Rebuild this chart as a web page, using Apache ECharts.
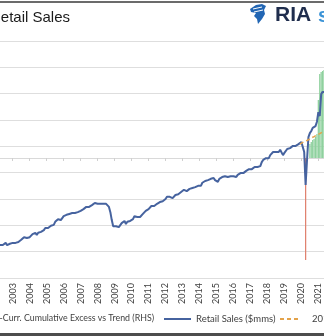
<!DOCTYPE html>
<html>
<head>
<meta charset="utf-8">
<script src="https://cdn.jsdelivr.net/npm/echarts/dist/echarts.min.js"></script>
<style>
html,body{margin:0;padding:0;background:#fff;}
#chart{width:324px;height:336px;}
</style>
</head>
<body>
<div id="chart"></div>
<script>
// ---- Data ----
const titleText = 'Retail Sales';
const firstYear = 2002;
const firstMonth = 4; // April 2002 is the first visible month
// Retail Sales ($bn, monthly), Apr 2002 .. May 2021
const retailSales = [
  315,313,315,318,320,315,315,318,320,
  320,318,320,320,322,324,327,329,333,331,331,331,
  333,336,340,338,343,338,343,343,345,349,349,354,
  352,354,356,359,356,361,368,368,374,370,372,374,
  381,381,384,386,386,388,388,390,388,388,390,393,
  393,395,397,397,402,400,402,404,406,406,411,409,
  409,406,409,409,409,411,409,406,402,390,372,358,
  361,358,354,356,358,365,363,370,363,368,370,370,
  372,374,381,381,379,377,379,381,386,388,393,395,
  397,400,404,404,404,406,409,409,413,413,415,418,
  420,425,427,425,425,422,425,429,431,431,434,436,
  438,441,438,438,441,443,443,445,445,447,450,450,
  447,450,457,461,461,463,463,466,466,466,468,463,
  459,459,466,466,470,470,472,472,470,472,472,472,
  472,472,470,475,479,479,479,479,482,484,486,488,
  491,488,491,493,491,493,495,495,504,509,513,513,
  513,513,520,520,527,525,527,529,527,532,532,520,
  525,527,534,536,536,539,541,543,541,543,545,545,
  550,548,527,452,509,561,570,575,582,584,586,596,
  618,609,659,664,664
];
// Trend line, Dec 2019 .. May 2021
const trendStart = '2019-12';
const trendValues = [545,547,549,550,552,554,555,557,559,561,562,564,566,568,569,571,573,575];
// Cumulative excess vs trend (RHS), Apr 2020 .. May 2021
const excessStart = '2020-04';
const excessValues = [-204,null,null,28,32,36,38,42,48,116,168,172,174,176];

const seriesNames = [
  '2020-Curr. Cumulative Excess vs Trend (RHS)',
  'Retail Sales ($mms)',
  '2015-2019 Trend'
];

// ---- Build category axis and aligned series ----
const categories = [];
for (let i = 0; i < retailSales.length; i++) {
  const m = firstMonth - 1 + i;
  const y = firstYear + Math.floor(m / 12);
  const mm = (m % 12) + 1;
  categories.push(y + '-' + (mm < 10 ? '0' + mm : mm));
}
function alignTo(start, vals) {
  const out = categories.map(() => null);
  const idx = categories.indexOf(start);
  vals.forEach((v, k) => { if (idx + k < out.length) out[idx + k] = v; });
  return out;
}
const trendData = alignTo(trendStart, trendValues);
const excessData = alignTo(excessStart, excessValues).map(v =>
  v === null ? null : (v < 0 ? { value: v, itemStyle: { color: '#e0826f' } } : v));

const isJan = (idx, val) => String(val).slice(5) === '01';
const txt = { fontFamily: 'Lato', fontSize: 9, color: '#404040' };
const legTxt = { fontFamily: 'Lato', fontSize: 9.5, color: '#404040' };

const chart = echarts.init(document.getElementById('chart'), null, { renderer: 'canvas' });
chart.setOption({
  animation: false,
  backgroundColor: '#ffffff',
  graphic: [
    { type: 'rect', shape: { x: 0, y: 1, width: 324, height: 2 }, style: { fill: '#6b6b6b' }, silent: true },
    { type: 'rect', shape: { x: 0, y: 333, width: 324, height: 3 }, style: { fill: '#4d4d4d' }, silent: true },
    { type: 'text', style: { x: -10, y: 18, text: titleText, font: '15px "Liberation Sans"', fill: '#1a1a1a', verticalAlign: 'middle' }, silent: true },
    { type: 'polygon', shape: { points: [[250,9],[256,5],[262,4],[266,6],[264,10],[265,14],[262,19],[258,24],[257,19],[254,16],[256,13],[251,12]] },
      style: { fill: '#2266b4' }, silent: true },
    { type: 'line', shape: { x1: 253, y1: 9, x2: 262, y2: 7 }, style: { stroke: '#ffffff', lineWidth: 1 }, silent: true },
    { type: 'line', shape: { x1: 254, y1: 12, x2: 263, y2: 10 }, style: { stroke: '#ffffff', lineWidth: 1 }, silent: true },
    { type: 'text', style: { x: 275, y: 15, text: 'RIA', font: 'bold 21px "Liberation Sans"', fill: '#1f2d4d', verticalAlign: 'middle' }, silent: true },
    { type: 'text', style: { x: 318, y: 16, text: 's', font: 'bold 20px "Liberation Sans"', fill: '#3b93d6', verticalAlign: 'middle' }, silent: true }
  ],
  legend: [
    { data: [seriesNames[0]], right: 170, top: 314, padding: 0, itemWidth: 14, itemHeight: 8,
      textStyle: { ...legTxt, fontSize: 8.8 } },
    { data: [seriesNames[1]], left: 163, top: 314, padding: 0, itemWidth: 27, itemHeight: 12, textStyle: legTxt,
      itemStyle: { opacity: 0 }, lineStyle: { width: 2 } },
    { data: [seriesNames[2]], left: 279, top: 314, padding: 0, itemWidth: 18, itemHeight: 12,
      textStyle: { ...legTxt, padding: [0, 0, 0, 9] }, itemStyle: { opacity: 0 }, lineStyle: { width: 2 } }
  ],
  grid: { left: 0, right: 0, top: 41, bottom: 58 },
  xAxis: {
    type: 'category', data: categories, boundaryGap: false,
    axisLine: { show: true, lineStyle: { color: '#d9d9d9' } },
    axisTick: { show: true, interval: isJan, length: 3, lineStyle: { color: '#d0d0d0' } },
    axisLabel: { interval: isJan, rotate: 90, margin: 5, formatter: v => v.slice(0, 4), ...txt },
    splitLine: { show: false }
  },
  yAxis: [
    { type: 'value', min: 240, max: 780, interval: 60,
      axisLabel: { show: false }, axisLine: { show: false }, axisTick: { show: false },
      splitLine: { show: true, lineStyle: { color: '#dedede', width: 1 } } },
    { type: 'value', min: -240, max: 234, show: false, splitLine: { show: false } }
  ],
  series: [
    { name: seriesNames[0], type: 'bar', yAxisIndex: 1, data: excessData, barWidth: '90%',
      itemStyle: { color: '#8fd19e' } },
    { name: seriesNames[1], type: 'line', data: retailSales, symbol: 'none',
      lineStyle: { color: '#46639f', width: 2 }, itemStyle: { color: '#46639f' } },
    { name: seriesNames[2], type: 'line', data: trendData, symbol: 'none', connectNulls: false,
      lineStyle: { color: '#e3a24a', width: 1.5, type: [4, 3] }, itemStyle: { color: '#e3a24a' } }
  ]
});
</script>
</body>
</html>
